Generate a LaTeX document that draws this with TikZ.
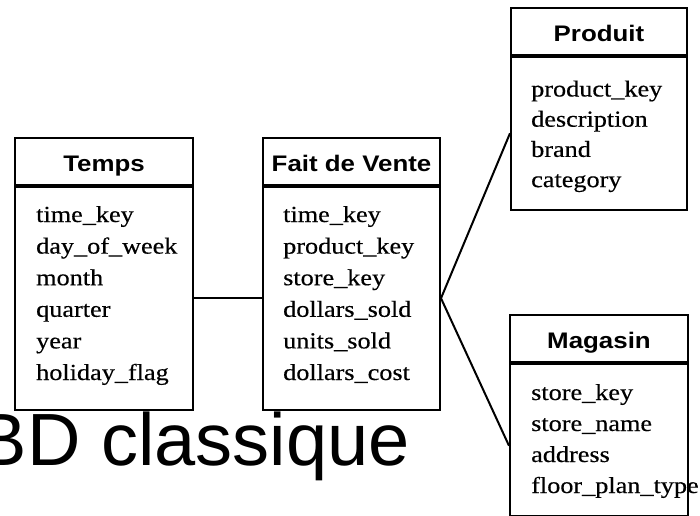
\documentclass[tikz,border=0pt]{standalone}
\usepackage{fontspec}
\setmainfont{Liberation Serif}[FakeStretch=1.14, FakeBold=0.4]
\newfontfamily\headfont{Liberation Sans}[FakeStretch=1.15]
\newfontfamily\titlefont{Liberation Sans}
\tikzset{ hd/.style = { rectangle % table name
        , draw
        , line width = 2pt
        , minimum height = 46.5pt
        , text height = 20pt
        , text depth = 0pt
        , inner sep = 0pt
        , font = \headfont\bfseries\fontsize{22.5}{27}\selectfont
        }
        , bd/.style = { rectangle % attribute box
        , draw
        , line width = 2pt
        , inner sep = 0pt
        , anchor = north
        }
        , attr/.style = { anchor = base west % attribute
        , inner sep = 0pt
        , font = \fontsize{23}{28}\selectfont
        }
        , ttl/.style = { anchor = base west % title
        , inner sep = 0pt
        , font = \titlefont\fontsize{74}{80}\selectfont
        }
        , link/.style = { line width = 2pt }
        }

\begin{document}
\begin{tikzpicture}[x=1pt, y=-1pt]
        \useasboundingbox (0,0) rectangle (700,515);

        % Temps
        \node [hd, minimum width=178pt, anchor=north west] (th) at (14,137) {Temps};
        \node [bd, minimum width=178pt, minimum height=223.5pt] (tb) at (th.south) {};
        \foreach \a [count=\i from 0] in {time\_key, day\_of\_week, month, quarter, year, holiday\_flag}
            \node [attr] (t\i) at (36,222+31.6*\i) {\a};

        % Fait de Vente
        \node [hd, minimum width=177pt, anchor=north west] (fh) at (262,137) {Fait de Vente};
        \node [bd, minimum width=177pt, minimum height=223.5pt] (fb) at (fh.south) {};
        \foreach \a [count=\i from 0] in {time\_key, product\_key, store\_key, dollars\_sold, units\_sold, dollars\_cost}
            \node [attr] (f\i) at (283,222+31.6*\i) {\a};

        % Produit
        \node [hd, minimum width=176pt, anchor=north west] (ph) at (510,7) {Produit};
        \node [bd, minimum width=176pt, minimum height=153.5pt] (pb) at (ph.south) {};
        \foreach \a [count=\i from 0] in {product\_key, description, brand, category}
            \node [attr] (p\i) at (531,96.5+30.2*\i) {\a};

        % Magasin
        \node [hd, minimum width=178pt, anchor=north west] (mh) at (509,314) {Magasin};
        \node [bd, minimum width=178pt, minimum height=152.5pt] (mb) at (mh.south) {};
        \foreach \a [count=\i from 0] in {store\_key, store\_name, address, floor\_plan\_type}
            \node [attr] (m\i) at (531,400+31*\i) {\a};

        \draw [link] (tb.east) -- (fb.west);
        \draw [link] (fb.east) -- (pb.west);
        \draw [link] (fb.east) -- ([yshift=-6pt]mb.west);

        \node [ttl] (title) at (-22.2,465) {BD classique};
\end{tikzpicture}
\end{document}
